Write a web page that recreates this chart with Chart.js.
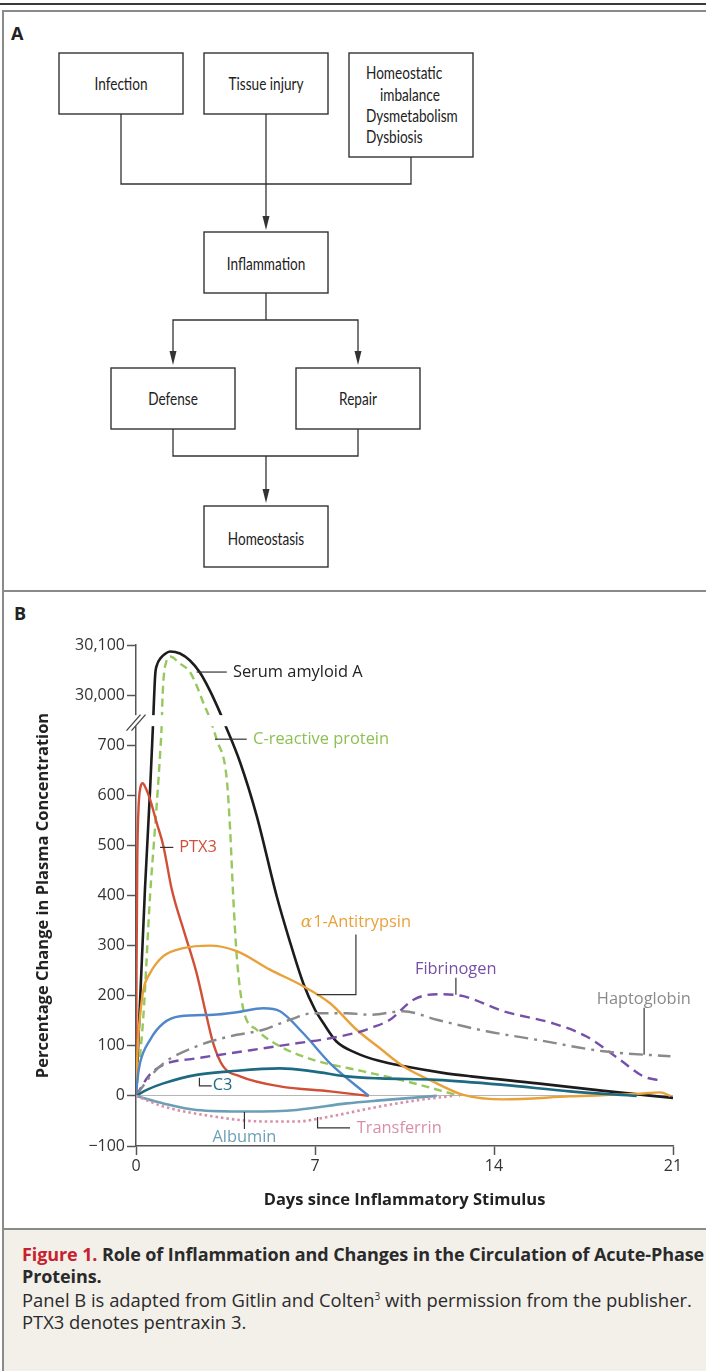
<!DOCTYPE html>
<html>
<head>
<meta charset="utf-8">
<title>Acute-phase proteins</title>
<script src="https://cdn.jsdelivr.net/npm/chart.js@4.4.1/dist/chart.umd.min.js"></script>
<style>
  html, body { margin: 0; padding: 0; background: #fff; }
  body {
    width: 706px; height: 1371px; position: relative; overflow: hidden;
    font-family: "Open Sans", Lato, sans-serif; color: #222;
  }
  .topRule { position: absolute; left: 0; top: 3px; width: 706px; height: 2px; background: #3a3a3a; }
  .frameTop { position: absolute; left: 2px; top: 10px; width: 704px; height: 2px; background: #8a8a8a; }
  .frameLeft { position: absolute; left: 2px; top: 10px; width: 2px; height: 1361px; background: #8a8a8a; }
  .sep { position: absolute; left: 2px; width: 704px; height: 2px; background: #8a8a8a; }
  .panelLabel { position: absolute; font-weight: bold; font-size: 18px; line-height: 18px; color: #222; }
  #flow { position: absolute; left: 0; top: 0; }
  #panelB { position: absolute; left: 0; top: 593px; }
  .caption {
    position: absolute; left: 4px; top: 1230px; width: 702px; height: 141px;
    background: #f3f0ea; padding: 13px 0 0 18px; box-sizing: border-box;
    font-size: 18.4px; line-height: 22px; white-space: nowrap; color: #2a2a2a;
  }
  .caption .title { font-weight: bold; font-size: 18px; letter-spacing: -0.1px; }
  .caption .fig { color: #c8202f; }
  .caption p { margin: 2px 0 0 0; }
  .caption sup { font-size: 10px; line-height: 0; }
</style>
</head>
<body>
<div class="topRule"></div>
<div class="frameTop"></div>
<div class="frameLeft"></div>
<div class="sep" style="top:590px"></div>
<div class="sep" style="top:1228px"></div>

<div class="panelLabel" style="left:11px; top:24px">A</div>
<div class="panelLabel" style="left:14px; top:604px">B</div>

<!-- Panel A: flow diagram -->
<svg id="flow" width="706" height="590" xmlns="http://www.w3.org/2000/svg">
  <g fill="#fff" stroke="#333" stroke-width="1.4">
    <rect x="59" y="53" width="124" height="61"/>
    <rect x="204" y="53" width="124" height="61"/>
    <rect x="349" y="53" width="124" height="104"/>
    <rect x="204" y="232" width="124" height="61"/>
    <rect x="111" y="368" width="124" height="61"/>
    <rect x="296" y="368" width="124" height="61"/>
    <rect x="204" y="506" width="124" height="61"/>
  </g>
  <g fill="none" stroke="#333" stroke-width="1.3">
    <polyline points="121,114 121,184 411,184 411,157"/>
    <line x1="266" y1="114" x2="266" y2="220"/>
    <line x1="266" y1="293" x2="266" y2="320"/>
    <polyline points="173,356 173,320 358,320 358,356"/>
    <polyline points="173,429 173,456 358,456 358,429"/>
    <line x1="266" y1="456" x2="266" y2="492"/>
  </g>
  <g fill="#333">
    <polygon points="266,230 262.5,216 269.5,216"/>
    <polygon points="173,365 169.5,351 176.5,351"/>
    <polygon points="358,365 354.5,351 361.5,351"/>
    <polygon points="266,503 262.5,489 269.5,489"/>
  </g>
  <!-- box text: narrowed a bit to match the condensed face of the original -->
  <g font-family="Lato, 'Open Sans', sans-serif" font-size="17" fill="#222" text-anchor="middle" dominant-baseline="central">
    <text transform="translate(121,83) scale(0.8,1)">Infection</text>
    <text transform="translate(266,83) scale(0.8,1)">Tissue injury</text>
    <text transform="translate(266,263) scale(0.8,1)">Inflammation</text>
    <text transform="translate(173,398) scale(0.8,1)">Defense</text>
    <text transform="translate(358,398) scale(0.8,1)">Repair</text>
    <text transform="translate(266,538) scale(0.8,1)">Homeostasis</text>
  </g>
  <g font-family="Lato, 'Open Sans', sans-serif" font-size="17" fill="#222" dominant-baseline="central">
    <text transform="translate(366,72) scale(0.8,1)">Homeostatic</text>
    <text transform="translate(380,94) scale(0.8,1)">imbalance</text>
    <text transform="translate(366,115) scale(0.8,1)">Dysmetabolism</text>
    <text transform="translate(366,136) scale(0.8,1)">Dysbiosis</text>
  </g>
</svg>

<!-- Panel B: acute-phase protein curves -->
<canvas id="panelB" width="706" height="635"></canvas>

<div class="caption">
  <div class="title"><span class="fig">Figure 1.</span> Role of Inflammation and Changes in the Circulation of Acute-Phase<br>Proteins.</div>
  <p>Panel B is adapted from Gitlin and Colten<sup>3</sup> with permission from the publisher.<br>PTX3 denotes pentraxin 3.</p>
</div>

<script>
// Axis ticks
const dayTicks = [0, 7, 14, 21];
const pctTicks = [-100, 0, 100, 200, 300, 400, 500, 600, 700, 30000, 30100];

// Curves: days since stimulus / percentage change
const saaDays = [0, 0.35, 0.55, 0.66, 0.75, 0.82, 0.95, 1.13, 1.33, 1.72, 2.11, 2.5, 2.89, 3.2, 3.5, 4.07, 4.72, 5.5, 6.0, 6.54, 7.0, 7.33, 7.85, 8.6, 9.5, 10.5, 12.0, 13.1, 15.7, 18.3, 21];
const saaPct = [0, 412, 610, 735, 30040, 30060, 30073, 30082, 30087, 30083, 30069, 30045, 30009, 29975, 739, 666, 559, 399, 311, 225, 172, 145, 108, 86, 70, 59, 46, 39, 25, 10, -4];

const crpDays = [0, 0.29, 0.55, 0.74, 0.94, 1.0, 1.04, 1.09, 1.18, 1.33, 1.72, 2.11, 2.37, 2.63, 2.9, 3.15, 3.55, 3.68, 3.8, 3.94, 4.2, 4.72, 5.63, 6.93, 8.89, 10.5, 12.67];
const crpPct = [0, 160, 400, 532, 680, 735, 29999, 30040, 30066, 30077, 30063, 30046, 30019, 29985, 752, 712, 632, 532, 400, 279, 172, 132, 99, 72, 49, 30, 0];

const ptx3Days = [0, 0.02, 0.05, 0.1, 0.17, 0.26, 0.4, 0.55, 0.81, 1.07, 1.4, 1.9, 2.37, 2.76, 3.02, 3.41, 4.07, 5.63, 7.59, 9.1];
const ptx3Pct = [0, 250, 470, 575, 615, 624, 612, 592, 545, 499, 412, 325, 245, 159, 105, 59, 39, 19, 9, 0];

const a1atDays = [0, 0.08, 0.16, 0.29, 0.55, 1.07, 1.85, 2.9, 3.94, 5.24, 6.54, 7.59, 8.63, 9.54, 10.45, 11.76, 12.8, 14.37, 16.97, 19.58, 20.5, 20.9];
const a1atPct = [0, 110, 160, 212, 245, 279, 295, 300, 289, 252, 219, 185, 132, 95, 59, 25, 2, -7, -1, 4, 7, 0];

const blueDays = [0, 0.05, 0.16, 0.55, 1.07, 1.72, 3.02, 3.94, 4.98, 5.63, 6.54, 7.59, 9.1];
const bluePct = [0, 30, 66, 112, 145, 159, 162, 167, 175, 169, 125, 65, 0];

const c3Days = [0, 0.42, 1.07, 2.37, 3.68, 5.63, 6.93, 8.24, 9.54, 11.76, 14.37, 16.97, 19.58];
const c3Pct = [0, 12, 25, 42, 49, 55, 49, 39, 35, 32, 22, 9, 0];

const haptoDays = [0, 0.55, 1.07, 2.37, 3.68, 4.98, 6.02, 6.93, 8.24, 9.15, 10.45, 11.76, 13.71, 15.67, 18.28, 20.9];
const haptoPct = [0, 38, 65, 99, 119, 132, 152, 165, 165, 162, 169, 152, 129, 112, 89, 79];

const fibDays = [0, 0.5, 1.07, 2.37, 3.68, 4.98, 6.28, 7.59, 8.89, 9.15, 9.93, 10.85, 11.76, 12.8, 14.37, 16.3, 17.6, 18.93, 19.84, 20.6];
const fibPct = [0, 40, 62, 75, 85, 95, 105, 115, 130, 135, 152, 192, 203, 199, 169, 145, 119, 72, 39, 30];

const albDays = [0, 1.07, 2.37, 4.33, 6.28, 8.24, 9.54, 11.76];
const albPct = [0, -15, -28, -31, -28, -15, -9, 0];

const trfDays = [0, 1.07, 3.02, 4.98, 6.28, 7.59, 9.54, 11.1, 12.4];
const trfPct = [0, -21, -41, -51, -51, -41, -21, -8, 0];

// Broken y axis: the 30,000 band sits one tick above 700
const BREAK_SHIFT = 29200;
const toAxis = (v) => (v >= 29000 ? v - BREAK_SHIFT : v);
const fromAxis = (t) => (t >= 790 ? t + BREAK_SHIFT : t);

const FONT = "'Open Sans', Lato, sans-serif";

const series = [
  { label: "Transferrin", days: trfDays, pct: trfPct, color: "#d98fa6", dash: [2.5, 3], width: 2.6 },
  { label: "Albumin", days: albDays, pct: albPct, color: "#6b9fb6", dash: [], width: 2.6 },
  { label: "C3", days: c3Days, pct: c3Pct, color: "#1d6a82", dash: [], width: 2.6 },
  { label: "Haptoglobin", days: haptoDays, pct: haptoPct, color: "#8a8a8a", dash: [14, 6, 3, 6], width: 2.4 },
  { label: "Fibrinogen", days: fibDays, pct: fibPct, color: "#7650a8", dash: [10, 6], width: 2.4 },
  { label: "unlabeled", days: blueDays, pct: bluePct, color: "#4f87c8", dash: [], width: 2.4 },
  { label: "alpha1-Antitrypsin", days: a1atDays, pct: a1atPct, color: "#e9a13a", dash: [], width: 2.4 },
  { label: "PTX3", days: ptx3Days, pct: ptx3Pct, color: "#d24f37", dash: [], width: 2.4 },
  { label: "C-reactive protein", days: crpDays, pct: crpPct, color: "#97c85e", dash: [8, 5], width: 2.4 },
  { label: "Serum amyloid A", days: saaDays, pct: saaPct, color: "#1c1c1c", dash: [], width: 2.6 },
];

// Labels with leader lines, anchored in data units (days, axis value)
const callouts = [
  { text: "Serum amyloid A", color: "#222", at: [3.79, 846], leader: [[2.37, 846], [3.55, 846]] },
  { text: "C-reactive protein", color: "#8cc152", at: [4.58, 712], leader: [[3.09, 712], [4.33, 712]] },
  { text: "PTX3", color: "#d24f37", at: [1.69, 496], leader: [[0.94, 496], [1.46, 496]] },
  { text: "1-Antitrypsin", prefix: "\u03b1", color: "#e9a13a", at: [6.44, 346], leader: [[8.6, 322], [8.6, 202], [7.07, 202]] },
  { text: "Fibrinogen", color: "#7650a8", at: [10.91, 252], leader: [[12.51, 236], [12.51, 202]] },
  { text: "Haptoglobin", color: "#8a8a8a", at: [18.02, 192], leader: [[19.87, 176], [19.87, 82]] },
  { text: "C3", color: "#1d6a82", at: [3.0, 22], leader: [[2.48, 36], [2.48, 20], [2.96, 20]] },
  { text: "Albumin", color: "#6b9fb6", at: [4.24, -82], align: "center", leader: [[4.24, -32], [4.24, -66]] },
  { text: "Transferrin", color: "#d98fa6", at: [8.63, -64], leader: [[7.1, -42], [7.1, -64], [8.37, -64]] },
];

// White gap across the plot plus the // mark on the axis
const axisBreak = {
  id: "axisBreak",
  afterDatasetsDraw(chart) {
    const { ctx, chartArea, scales } = chart;
    const top = scales.y.getPixelForValue(760);
    const bottom = scales.y.getPixelForValue(738);
    ctx.save();
    ctx.fillStyle = "#fff";
    ctx.fillRect(chartArea.left - 4, top, chartArea.right - chartArea.left + 4, bottom - top);
    const cx = chartArea.left;
    const cy = (top + bottom) / 2 + 2;
    ctx.strokeStyle = "#444";
    ctx.lineWidth = 1.3;
    [-2.5, 2.5].forEach((off) => {
      ctx.beginPath();
      ctx.moveTo(cx - 7 + off, cy + 8);
      ctx.lineTo(cx + 7 + off, cy - 8);
      ctx.stroke();
    });
    ctx.restore();
  },
};

const calloutLabels = {
  id: "calloutLabels",
  afterDatasetsDraw(chart) {
    const { ctx, scales } = chart;
    const px = (d) => scales.x.getPixelForValue(d);
    const py = (v) => scales.y.getPixelForValue(v);
    ctx.save();
    callouts.forEach((c) => {
      ctx.strokeStyle = "#333";
      ctx.lineWidth = 1.2;
      ctx.beginPath();
      c.leader.forEach(([d, v], i) => {
        if (i === 0) ctx.moveTo(px(d), py(v));
        else ctx.lineTo(px(d), py(v));
      });
      ctx.stroke();

      ctx.fillStyle = c.color;
      ctx.textBaseline = "middle";
      let x = px(c.at[0]);
      const y = py(c.at[1]);
      ctx.font = "16.4px " + FONT;
      if (c.align === "center") {
        ctx.textAlign = "center";
        ctx.fillText(c.text, x, y);
        return;
      }
      ctx.textAlign = "left";
      if (c.prefix) {
        ctx.font = "italic 17px 'DejaVu Serif', 'Liberation Serif', serif";
        ctx.fillText(c.prefix, x, y);
        x += ctx.measureText(c.prefix).width + 1;
        ctx.font = "16.4px " + FONT;
      }
      ctx.fillText(c.text, x, y);
    });
    ctx.restore();
  },
};

function drawPanelB() {
  Chart.defaults.font.family = FONT;

  const datasets = series.map((s) => ({
    label: s.label,
    data: s.days.map((d, i) => ({ x: d, y: toAxis(s.pct[i]) })),
    borderColor: s.color,
    borderDash: s.dash,
    borderWidth: s.width,
    pointRadius: 0,
    fill: false,
    cubicInterpolationMode: "monotone",
  }));

  new Chart(document.getElementById("panelB"), {
    type: "line",
    data: { datasets: datasets },
    options: {
      responsive: false,
      animation: false,
      events: [],
      layout: { padding: { top: 52, right: 33, left: 0, bottom: 0 } },
      plugins: {
        legend: { display: false },
        tooltip: { enabled: false },
      },
      scales: {
        x: {
          type: "linear",
          min: 0,
          max: 21,
          afterBuildTicks: (scale) => {
            scale.ticks = dayTicks.map((v) => ({ value: v }));
          },
          afterFit: (scale) => {
            scale.height = 82;
          },
          grid: { drawOnChartArea: false, tickLength: 9, tickColor: "#555", tickWidth: 1.5 },
          border: { color: "#555", width: 1.5 },
          ticks: { color: "#333", font: { size: 16 }, padding: 2, maxRotation: 0 },
          title: {
            display: true,
            text: "Days since Inflammatory Stimulus",
            color: "#222",
            font: { size: 16.5, weight: "bold" },
            padding: { top: 0, bottom: 18 },
          },
        },
        y: {
          min: -100,
          max: 900,
          afterBuildTicks: (scale) => {
            scale.ticks = pctTicks.map((v) => ({ value: toAxis(v) }));
          },
          afterFit: (scale) => {
            scale.width = 136;
          },
          grid: {
            color: (c) => (c.tick && c.tick.value === 0 ? "#b5b5b5" : "rgba(0,0,0,0)"),
            lineWidth: 1,
            tickColor: "#555",
            tickLength: 9,
            tickWidth: 1.5,
          },
          border: { color: "#555", width: 1.5 },
          ticks: {
            color: "#333",
            font: { size: 16 },
            padding: 2,
            callback: (val) => {
              const v = fromAxis(val);
              return v < 0 ? "\u2212" + Math.abs(v) : v.toLocaleString("en-US");
            },
          },
          title: {
            display: true,
            text: "Percentage Change in Plasma Concentration",
            color: "#222",
            font: { size: 16.5, weight: "bold" },
            padding: { top: 33, bottom: 0 },
          },
        },
      },
    },
    plugins: [axisBreak, calloutLabels],
  });
}

Promise.all([
  document.fonts.load("16px 'Open Sans'"),
  document.fonts.load("bold 17px 'Open Sans'"),
  document.fonts.load("16px Lato"),
]).then(drawPanelB, drawPanelB);
</script>
</body>
</html>
